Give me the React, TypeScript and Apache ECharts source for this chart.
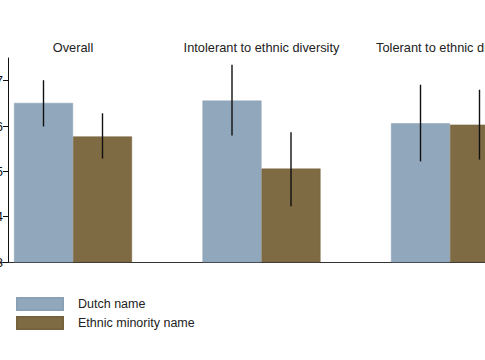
import React, { useEffect, useRef } from "react";
import * as echarts from "echarts";

const categories = ["Overall", "Intolerant to ethnic diversity", "Tolerant to ethnic diversity"];
const dutchMean = [6.51, 6.56, 6.06];
const dutchLow = [5.99, 5.79, 5.22];
const dutchHigh = [7.01, 7.35, 6.91];
const ethnicMean = [5.77, 5.06, 6.03];
const ethnicLow = [5.28, 4.23, 5.26];
const ethnicHigh = [6.28, 5.86, 6.8];
const yTicks = [3, 4, 5, 6, 7];
const seriesNames = ["Dutch name", "Ethnic minority name"];

const FONT = "Liberation Sans, Arial, Helvetica, sans-serif";
const BAR_W = 59;

export default function App() {
  const ref = useRef<HTMLDivElement>(null);
  useEffect(() => {
    document.body.style.margin = "0";
    const chart = echarts.init(ref.current!, null, { renderer: "svg" });
    const errSeries = (name: string, lows: number[], highs: number[], dir: number) => ({
      type: "custom",
      name: name + " CI",
      xAxisIndex: 0,
      yAxisIndex: 0,
      data: lows.map((l, i) => [i, l, highs[i]]),
      renderItem: (params: any, api: any) => {
        const p1 = api.coord([api.value(0), api.value(1)]);
        const p2 = api.coord([api.value(0), api.value(2)]);
        const dx = (dir * BAR_W) / 2;
        return {
          type: "line",
          shape: { x1: p1[0] + dx, y1: p1[1], x2: p2[0] + dx, y2: p2[1] },
          style: { stroke: "#111", lineWidth: 1.4 },
        };
      },
      z: 5,
    });
    chart.setOption({
      animation: false,
      backgroundColor: "#fff",
      textStyle: { fontFamily: FONT },
      grid: {
        left: -21.25,
        right: -59.25,
        top: 58,
        bottom: 98,
        containLabel: false,
        outerBoundsMode: "none",
      },
      legend: {
        data: seriesNames,
        orient: "vertical",
        left: 16,
        top: 297,
        itemWidth: 46,
        itemHeight: 12,
        itemGap: 5,
        padding: 0,
        icon: "rect",
        textStyle: { fontSize: 12.5, color: "#222", fontFamily: FONT, padding: [0, 0, 0, 10] },
      },
      xAxis: [
        {
          type: "category",
          data: categories,
          position: "bottom",
          axisLine: { show: true, lineStyle: { color: "#333", width: 1 } },
          axisTick: { show: false },
          axisLabel: { show: false },
        },
        {
          type: "category",
          data: categories,
          position: "top",
          axisLine: { show: false },
          axisTick: { show: false },
          axisLabel: { show: true, interval: 0, fontSize: 12.8, color: "#222", margin: 4, fontFamily: FONT },
        },
      ],
      yAxis: {
        type: "value",
        min: 3,
        max: 7.5,
        offset: -29.25,
        z: 10,
        splitLine: { show: false },
        axisLine: { show: true, lineStyle: { color: "#111", width: 1 } },
        axisTick: { show: true, length: 5, lineStyle: { color: "#111" }, customValues: yTicks },
        axisLabel: { show: true, fontSize: 13, color: "#111", margin: 5, customValues: yTicks, fontFamily: FONT },
      },
      series: [
        {
          type: "bar",
          name: seriesNames[0],
          data: dutchMean,
          barWidth: BAR_W,
          barGap: "0%",
          itemStyle: { color: "#91a7bb", borderColor: "#8aa0b4", borderWidth: 0.5 },
        },
        {
          type: "bar",
          name: seriesNames[1],
          data: ethnicMean,
          barWidth: BAR_W,
          barGap: "0%",
          itemStyle: { color: "#7e6a43", borderColor: "#76623d", borderWidth: 0.5 },
        },
        errSeries(seriesNames[0], dutchLow, dutchHigh, -1),
        errSeries(seriesNames[1], ethnicLow, ethnicHigh, 1),
      ],
    });
    return () => chart.dispose();
  }, []);
  return <div ref={ref} style={{ width: 485, height: 360 }} />;
}
